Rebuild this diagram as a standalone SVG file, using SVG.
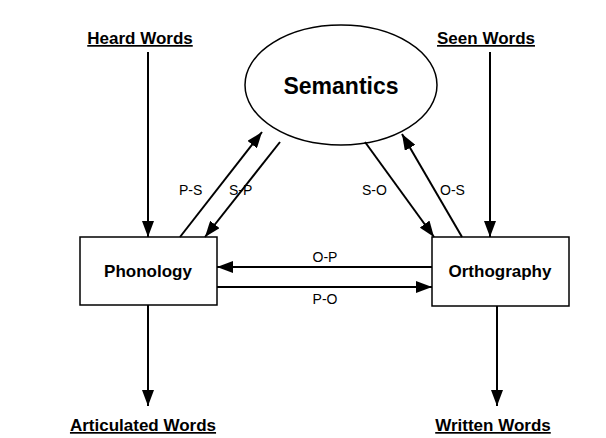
<svg xmlns="http://www.w3.org/2000/svg" width="606" height="438" viewBox="0 0 606 438">
<style>
.t{font-family:"Liberation Sans",Arial,sans-serif;fill:#000}
.h{font-size:17px;font-weight:bold;text-decoration:underline}
.n{font-size:17px;font-weight:bold}
.l{font-size:14px}
.c line{stroke:#000;stroke-width:2;marker-end:url(#b)}
rect,ellipse{fill:#fff;stroke:#000;stroke-width:1.5}
</style>
<defs><marker id="b" viewBox="0 0 16 12" refX="16" refY="6" markerWidth="16" markerHeight="12" markerUnits="userSpaceOnUse" orient="auto"><path d="M0,0L16,6L0,12z" fill="#000"/></marker></defs>
<g id="semantics"><ellipse cx="341" cy="85" rx="96" ry="60"/><text class="t" x="341" y="94" text-anchor="middle" font-size="23" font-weight="bold">Semantics</text></g>
<g id="phonology"><rect x="80" y="237" width="137" height="68"/><text class="t n" x="148" y="277" text-anchor="middle">Phonology</text></g>
<g id="orthography"><rect x="432" y="237" width="137" height="69"/><text class="t n" x="500" y="277" text-anchor="middle">Orthography</text></g>
<g id="labels">
<text class="t h" x="140" y="44" text-anchor="middle">Heard Words</text>
<text class="t h" x="486" y="44" text-anchor="middle">Seen Words</text>
<text class="t h" x="143" y="431" text-anchor="middle">Articulated Words</text>
<text class="t h" x="493" y="431" text-anchor="middle">Written Words</text>
</g>
<g class="c">
<line x1="148" y1="52" x2="148" y2="237"/>
<line x1="490" y1="52" x2="490" y2="237"/>
<line x1="148" y1="305" x2="148" y2="406"/>
<line x1="497" y1="306" x2="497" y2="406"/>
<line x1="180" y1="237" x2="262" y2="132"/>
<line x1="280" y1="142" x2="205" y2="237"/>
<line x1="462" y1="237" x2="402" y2="134"/>
<line x1="365" y1="142" x2="434" y2="237"/>
<line x1="432" y1="267" x2="217" y2="267"/>
<line x1="217" y1="287" x2="432" y2="287"/>
</g>
<g id="edge-labels">
<text class="t l" x="179" y="195">P-S</text>
<text class="t l" x="229" y="195">S-P</text>
<text class="t l" x="362" y="195">S-O</text>
<text class="t l" x="440" y="195">O-S</text>
<text class="t l" x="325" y="262" text-anchor="middle">O-P</text>
<text class="t l" x="325" y="304" text-anchor="middle">P-O</text>
</g>
</svg>
